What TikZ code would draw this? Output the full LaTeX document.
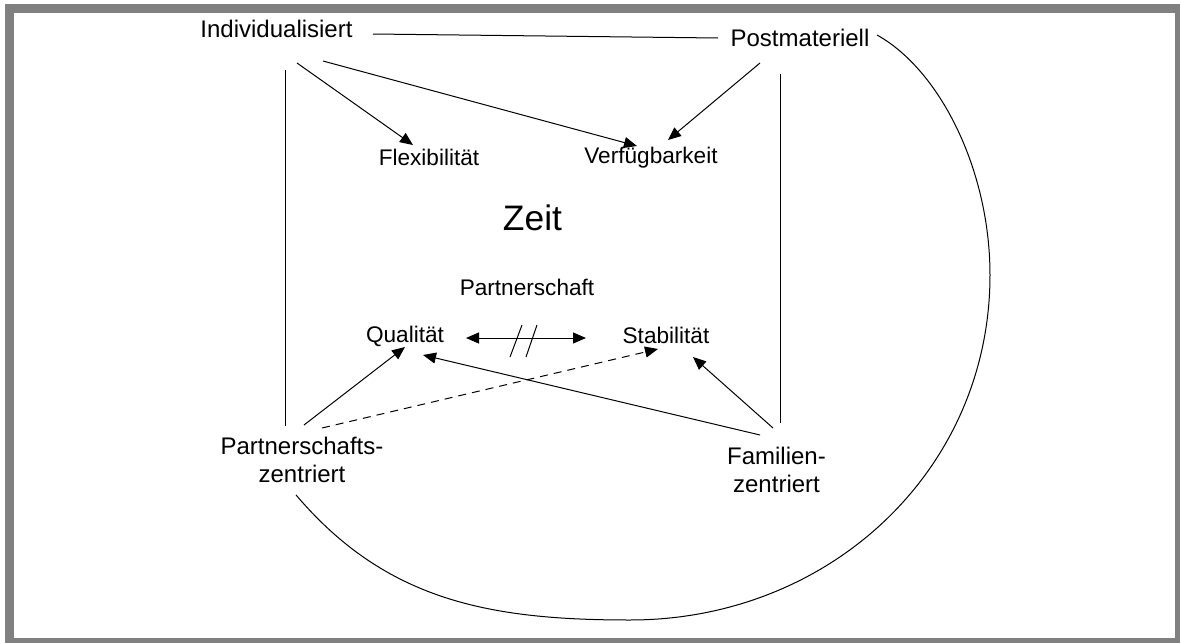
\documentclass[tikz,border=0pt]{standalone}
\usepackage{fontspec}
\setmainfont{Liberation Sans}
\usetikzlibrary{arrows.meta}

\begin{document}
\begin{tikzpicture}[
  x=0.5pt, y=-0.5pt,
  >={Triangle[length=6.5pt,width=5.5pt]},
  lbl/.style={font=\fontsize{12}{14}\selectfont, anchor=base},
  inlbl/.style={font=\fontsize{11.3}{13}\selectfont, anchor=base},
  twolbl/.style={font=\fontsize{12}{14}\selectfont, anchor=north, align=center},
  link/.style={line width=0.5pt},
  every node/.style={inner sep=0pt}]
  \useasboundingbox (0,0) rectangle (1180,643);
  %  -- - frame  -- -
  \fill[gray] (5,4) rectangle (1180,643);
  \fill[white] (14,13) rectangle (1175,638);
  %  -- - orientations  -- -
  \node[lbl] (indiv) at (276.5,37) {Individualisiert};
  \node[lbl] (post) at (800,46) {Postmateriell};
  \node[twolbl] (pzent) at (302,436.5) {Partnerschafts-\\zentriert};
  \node[twolbl] (fzent) at (776.5,446.5) {Familien-\\zentriert};
  %  -- - centre  -- -
  \node[inlbl] (flex) at (429,165) {Flexibilität};
  \node[inlbl] (verf) at (651,163) {Verfügbarkeit};
  \node[font=\fontsize{17.7}{20}\selectfont, anchor=base] (zeit) at (532.5,230) {Zeit};
  \node[inlbl] (partner) at (527,295) {Partnerschaft};
  \node[inlbl] (qual) at (405,342) {Qualität};
  \node[inlbl] (stab) at (666,343) {Stabilität};
  %  -- - top  -- -
  \draw[link] ([shift={(96.5,-3)}]indiv.base) -- ([shift={(-82,-8)}]post.base);
  \draw[link,->] ([shift={(20.5,26)}]indiv.base) -- ([shift={(-16,-20)}]flex.base);
  \draw[link,->] ([shift={(46.5,24)}]indiv.base) -- ([shift={(-14,-17)}]verf.base);
  \draw[link,->] ([shift={(-40,17)}]post.base) -- ([shift={(17,-23)}]verf.base);
  %  -- - sides  -- -
  \draw[link] ([shift={(8.5,33)}]indiv.base) -- ([shift={(-17,-10.5)}]pzent.north);
  \draw[link] ([shift={(-20,28)}]post.base) -- ([shift={(3.5,-23.5)}]fzent.north);
  \draw[link] ([shift={(77,-11)}]post.base) .. controls (940,70) and (990,170) .. (990,275)
    .. controls (990,470) and (830,620) .. (630,620)
    .. controls (490,620) and (386,601) .. ([shift={(-6,12)}]pzent.south);
  %  -- - bottom  -- -
  \draw[link,<->] ([shift={(61,-4)}]qual.base) -- ([shift={(-80,-5)}]stab.base);
  \draw[link] ([shift={(105,15)}]qual.base) -- ++(12,-32)
              ([shift={(121,15)}]qual.base) -- ++(11,-32);
  \draw[link,->] ([shift={(2,-11.5)}]pzent.north) -- ([shift={(0,5)}]qual.base);
  \draw[link,->,dash pattern=on 4pt off 3pt] ([shift={(20,-8.5)}]pzent.north) -- ([shift={(-8,6)}]stab.base);
  \draw[link,->] ([shift={(-16.5,-11.5)}]fzent.north) -- ([shift={(18,13)}]qual.base);
  \draw[link,->] ([shift={(-3.5,-18.5)}]fzent.north) -- ([shift={(27,14)}]stab.base);
\end{tikzpicture}
\end{document}
